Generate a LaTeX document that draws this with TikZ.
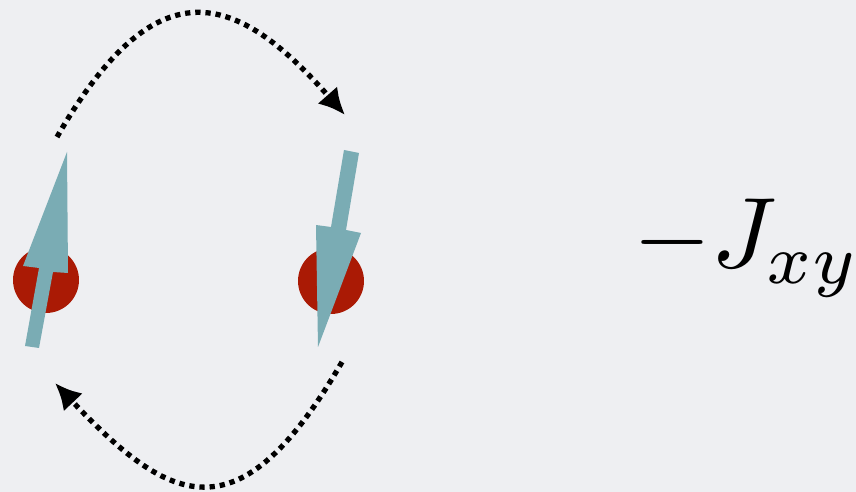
\documentclass[tikz,border=0pt]{standalone}
\usetikzlibrary{arrows.meta}
\definecolor{bg}{RGB}{238,239,242}
\definecolor{siteRed}{RGB}{170,26,5}
\definecolor{spinTeal}{RGB}{122,172,180}
\begin{document}
\begin{tikzpicture}[x=0.02cm,y=-0.02cm,line join=round,
	site/.style={circle,fill=siteRed,minimum size=1.32cm,inner sep=0pt},
	spin/.style={fill=spinTeal,draw=none},
	hop/.style={line width=3pt,dash pattern=on 3pt off 2.8pt,-{Latex[length=15pt,width=15pt]}}]
	\fill[bg] (0,0) rectangle (856,492);
	\useasboundingbox (0,0) rectangle (856,492);
	\node[site] (siteA) at (46,280) {};
	\node[site] (siteB) at (331,281) {};
	\fill[spin] (25,346) -- (39,348) -- (53,272) -- (68,273) -- (67,152) -- (23,266) -- (39,268) -- cycle;
	\fill[spin] (344,150) -- (359,153) -- (346,230) -- (361,233) -- (318,347) -- (316,225) -- (331,227) -- cycle;
	\coordinate (topA) at (57,137);
	\coordinate (topB) at (345,115);
	\coordinate (botB) at (342,362);
	\coordinate (botA) at (55,383);
	\draw[hop] (topA) .. controls (156,-35) and (235,-10) .. (topB);
	\draw[hop] (botB) .. controls (239,540) and (170,505) .. (botA);
	\node[scale=5.7,anchor=base] (coupling) at (747,268) {$-J_{xy}$};
\end{tikzpicture}
\end{document}
